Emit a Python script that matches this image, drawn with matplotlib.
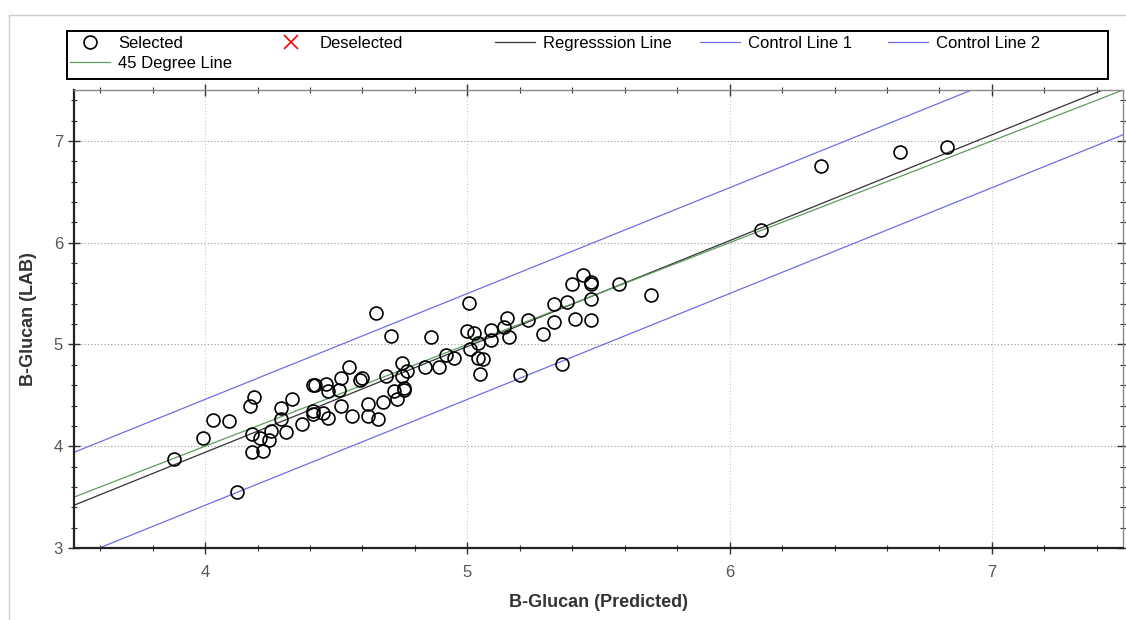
import numpy as np
import matplotlib.pyplot as plt
from matplotlib.lines import Line2D
from matplotlib.patches import Rectangle
from matplotlib.ticker import MultipleLocator

# Predicted vs lab values
predicted = [3.88, 3.99, 4.03, 4.09, 4.12, 4.185, 4.17, 4.18, 4.18, 4.21,
             4.22, 4.245, 4.25, 4.29, 4.29, 4.33, 4.31, 4.37, 4.41, 4.41,
             4.42, 4.41, 4.46, 4.47, 4.45, 4.47, 4.52, 4.51, 4.55, 4.52,
             4.56, 4.65, 4.59, 4.60, 4.62, 4.62, 4.66, 4.71, 4.69, 4.68,
             4.75, 4.75, 4.72, 4.73, 4.76, 4.76, 4.77, 4.84, 4.86, 4.89,
             4.92, 4.95, 5.005, 5.00, 5.025, 5.01, 5.04, 5.04, 5.06, 5.05,
             5.09, 5.09, 5.15, 5.14, 5.16, 5.20, 5.23, 5.29, 5.33, 5.33,
             5.36, 5.38, 5.40, 5.41, 5.44, 5.47, 5.47, 5.47, 5.47, 5.58,
             5.70, 6.12, 6.35, 6.65, 6.83]
lab = [3.87, 4.08, 4.26, 4.25, 3.55, 4.48, 4.40, 4.12, 3.94, 4.08,
       3.95, 4.06, 4.15, 4.38, 4.27, 4.46, 4.14, 4.22, 4.35, 4.32,
       4.60, 4.60, 4.61, 4.54, 4.33, 4.28, 4.67, 4.55, 4.78, 4.40,
       4.30, 5.31, 4.65, 4.67, 4.41, 4.30, 4.27, 5.08, 4.69, 4.43,
       4.82, 4.69, 4.54, 4.46, 4.57, 4.55, 4.74, 4.78, 5.07, 4.78,
       4.90, 4.87, 5.41, 5.13, 5.11, 4.96, 5.01, 4.87, 4.86, 4.71,
       5.14, 5.04, 5.26, 5.17, 5.07, 4.70, 5.24, 5.10, 5.40, 5.22,
       4.81, 5.42, 5.59, 5.25, 5.68, 5.61, 5.59, 5.45, 5.24, 5.59,
       5.49, 6.12, 6.75, 6.89, 6.94]

# Line parameters
reg_slope = 1.04
reg_intercept = -0.22
control_offset = 0.52

xlim = (3.5, 7.5)
ylim = (3.0, 7.5)

W, H = 1126, 620
plt.rcParams['font.family'] = ['Liberation Sans', 'DejaVu Sans']

fig = plt.figure(figsize=(W / 100, H / 100), dpi=100)
ax = fig.add_axes([74 / W, 1 - 548 / H, 1049 / W, 458 / H])

xs = np.array(xlim)
ax.plot(predicted, lab, 'o', markersize=9.3, markerfacecolor='none',
        markeredgecolor='black', markeredgewidth=1.2, label='Selected', zorder=5)
ax.plot([], [], 'x', color='red', markersize=10, markeredgewidth=1.2, label='Deselected')
ax.plot(xs, reg_slope * xs + reg_intercept, color='#333333', lw=0.9,
        label='Regresssion Line')
ax.plot(xs, reg_slope * xs + reg_intercept + control_offset, color='#6f6fe6',
        lw=0.9, label='Control Line 1')
ax.plot(xs, reg_slope * xs + reg_intercept - control_offset, color='#6f6fe6',
        lw=0.9, label='Control Line 2')
ax.plot(xs, xs, color='#5f9a5f', lw=0.9, label='45 Degree Line')

ax.set_xlim(*xlim)
ax.set_ylim(*ylim)
ax.xaxis.set_major_locator(MultipleLocator(1))
ax.yaxis.set_major_locator(MultipleLocator(1))
ax.xaxis.set_minor_locator(MultipleLocator(0.2))
ax.yaxis.set_minor_locator(MultipleLocator(0.2))
ax.grid(True, which='major', axis='x', color='#c8c8c8', ls=(0, (1, 2)), lw=0.8)
ax.grid(True, which='major', axis='y', color='#999999', ls=(0, (1, 2)), lw=0.8)
ax.tick_params(which='both', direction='inout', top=True, right=True,
               labelsize=12, labelcolor='#555555', color='#333333')
ax.tick_params(which='major', length=9, width=1)
ax.tick_params(which='minor', length=5, width=0.8)
ax.tick_params(axis='x', pad=8)

for side in ['left', 'bottom']:
    ax.spines[side].set_linewidth(1.6)
    ax.spines[side].set_color('#222222')
for side in ['top', 'right']:
    ax.spines[side].set_linewidth(1.0)
    ax.spines[side].set_color('#888888')

ax.set_xlabel('B-Glucan (Predicted)', fontsize=13, fontweight='bold',
              color='#333333', labelpad=10)
ax.set_ylabel('B-Glucan (LAB)', fontsize=13, fontweight='bold',
              color='#333333', labelpad=12)

# legend drawn column by column so the columns sit where the reference has them
h, l = ax.get_legend_handles_labels()
columns = [[0, 5], [1], [2], [3], [4]]
col_x = [70, 271, 495, 700, 888]
for idx, x0 in zip(columns, col_x):
    fig.legend([h[i] for i in idx], [l[i] for i in idx], loc='upper left',
               bbox_to_anchor=(x0 / W, 1 - 36 / H), frameon=False,
               fontsize=12, borderpad=0, borderaxespad=0, handlelength=2.4,
               handletextpad=0.5, labelspacing=0.3)
fig.add_artist(Rectangle((67 / W, 1 - 79 / H), 1041 / W, 48 / H,
                         transform=fig.transFigure, fill=False,
                         edgecolor='black', lw=1.4))

# light outer frame lines
fig.add_artist(Line2D([9 / W, 1], [1 - 15 / H, 1 - 15 / H], color='#cccccc', lw=1))
fig.add_artist(Line2D([9 / W, 9 / W], [0, 1 - 15 / H], color='#cccccc', lw=1))

fig.savefig('out.png', dpi=100)
